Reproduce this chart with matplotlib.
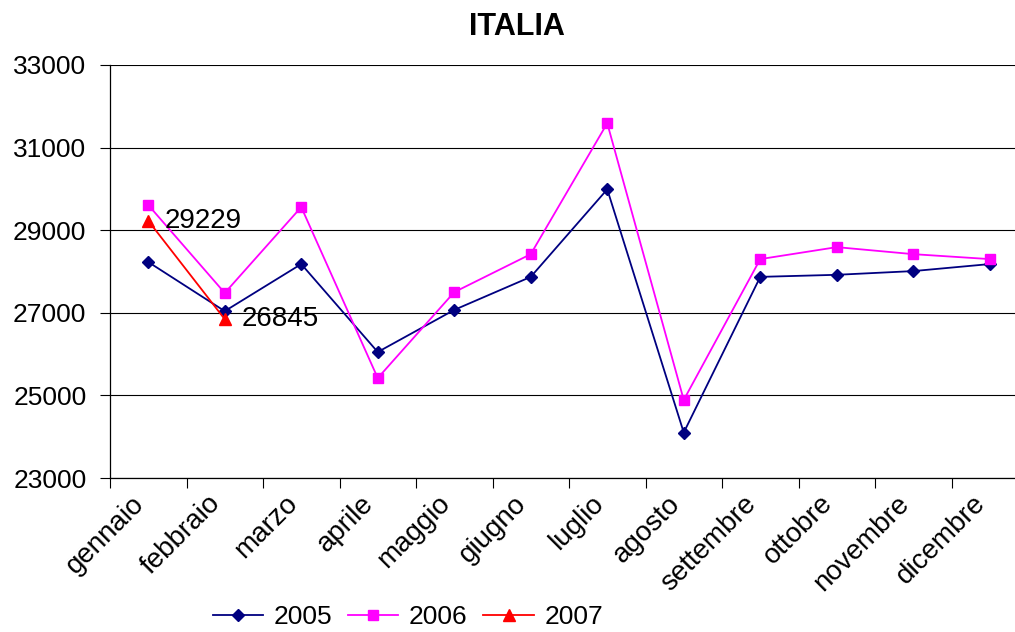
import matplotlib
matplotlib.use("Agg")
import matplotlib.pyplot as plt
import matplotlib.transforms as mtransforms
import numpy as np

months = ["gennaio", "febbraio", "marzo", "aprile", "maggio", "giugno",
          "luglio", "agosto", "settembre", "ottobre", "novembre", "dicembre"]
s2005 = [28230, 27040, 28180, 26050, 27070, 27870, 29990, 24100, 27870, 27920, 28010, 28180]
s2006 = [29610, 27480, 29560, 25420, 27500, 28420, 31590, 24890, 28300, 28590, 28420, 28300]
s2007 = [29229, 26845]
yticks = [23000, 25000, 27000, 29000, 31000, 33000]

plt.rcParams['font.family'] = ['Liberation Sans', 'DejaVu Sans']

fig = plt.figure(figsize=(10.15, 6.32), dpi=100)
ax = fig.add_axes([110/1015, 154/632, 918/1015, 413/632])

x = np.arange(len(months))
ax.plot(x, s2005, color='#000080', marker='D', markersize=6.5, lw=1.3, label='2005')
ax.plot(x, s2006, color='#FF00FF', marker='s', markersize=7.5, lw=1.3, label='2006')
x7 = np.arange(len(s2007))
ax.plot(x7, s2007, color='#FF0000', marker='^', markersize=8, lw=1.3, label='2007')
for xi, v in zip(x7, s2007):
    ax.annotate(str(v), (xi, v), xytext=(12, 0), textcoords='offset points',
                fontsize=20, va='center', ha='left')

ax.set_xlim(-0.5, len(months) - 0.5)
ax.set_ylim(23000, 33000)
ax.set_yticks(yticks)
ax.set_yticklabels([str(t) for t in yticks], fontsize=19)
ax.yaxis.grid(True, color='black', lw=0.8)
ax.set_axisbelow(True)
ax.set_xticks(x)
ax.set_xticklabels(months, fontsize=20, rotation=45, ha='right', va='top',
                   rotation_mode='anchor')
ax.tick_params(axis='x', which='major', length=0, pad=9)
offset = mtransforms.ScaledTranslation(-17/100, 0, fig.dpi_scale_trans)
for lbl in ax.get_xticklabels():
    lbl.set_transform(lbl.get_transform() + offset)
ax.set_xticks(np.arange(-0.5, len(months)), minor=True)
ax.tick_params(axis='x', which='minor', length=7, width=0.8, direction='out')
ax.tick_params(axis='y', length=7, width=0.8, direction='out', pad=10)
for side in ['top', 'right']:
    ax.spines[side].set_visible(False)
ax.spines['left'].set_linewidth(0.9)
ax.spines['bottom'].set_linewidth(0.9)

fig.text(517/1015, 1 - 27/632, 'ITALIA', fontsize=22, fontweight='bold',
         ha='center', va='center')

fig.legend(loc='center', bbox_to_anchor=(408/1015, 15/632), ncol=3, frameon=False,
           fontsize=19, handlelength=1.9, columnspacing=0.6, handletextpad=0.4,
           borderaxespad=0)

fig.savefig('out.png', dpi=100)
